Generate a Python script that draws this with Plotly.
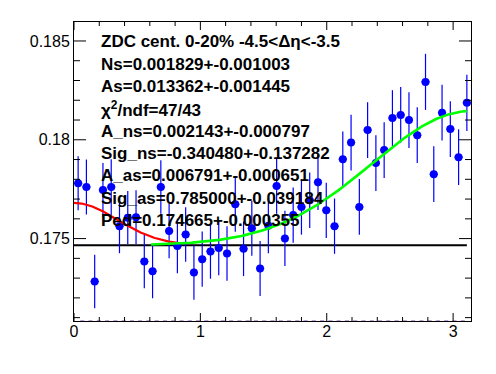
import numpy as np
import plotly.graph_objects as go

# ---- data ----
n_bins = 48
y_vals = [0.17780, 0.17761, 0.17283, 0.17746, 0.17761, 0.17563, 0.17606, 0.17608,
          0.17384, 0.17335, 0.17761, 0.17538, 0.17462, 0.17521, 0.17328, 0.17396,
          0.17435, 0.17453, 0.17425, 0.17674, 0.17448, 0.17552, 0.17349, 0.17565,
          0.17766, 0.17501, 0.17619, 0.17660, 0.17694, 0.17785, 0.17643, 0.17563,
          0.17902, 0.17986, 0.17660, 0.18049, 0.17882, 0.17948, 0.18110, 0.18126,
          0.18100, 0.18023, 0.18293, 0.17826, 0.18137, 0.18054, 0.17912, 0.18187]
y_errs = [0.00137, 0.00139, 0.00135, 0.00137, 0.00141, 0.00137, 0.00135, 0.00137,
          0.00135, 0.00137, 0.00135, 0.00137, 0.00138, 0.00138, 0.00138, 0.00140,
          0.00138, 0.00138, 0.00138, 0.00139, 0.00138, 0.00139, 0.00139, 0.00139,
          0.00140, 0.00140, 0.00140, 0.00140, 0.00140, 0.00140, 0.00140, 0.00140,
          0.00140, 0.00141, 0.00141, 0.00141, 0.00141, 0.00141, 0.00141, 0.00141,
          0.00141, 0.00141, 0.00142, 0.00141, 0.00141, 0.00141, 0.00141, 0.00142]

# fit parameters (as printed on the chart)
A_ns, Sig_ns = 0.002143, -0.340480
A_as, Sig_as = 0.006791, 0.785000
Ped = 0.174665

text_lines = [
    "ZDC cent. 0-20% -4.5&lt;Δη&lt;-3.5",
    "Ns=0.001829+-0.001003",
    "As=0.013362+-0.001445",
    "χ<sup>2</sup>/ndf=47/43",
    "A_ns=0.002143+-0.000797",
    "Sig_ns=-0.340480+-0.137282",
    "A_as=0.006791+-0.000651",
    "Sig_as=0.785000+-0.039184",
    "Ped=0.174665+-0.000355",
]

x_tickvals = [0, 1, 2, 3]
x_ticktext = ["0", "1", "2", "3"]
y_tickvals = [0.175, 0.18, 0.185]
y_ticktext = ["0.175", "0.18", "0.185"]
x_minor_step = 0.2
y_minor_step = 0.001

# ---- derived ----
bw = np.pi / n_bins
x_c = (np.arange(n_bins) + 0.5) * bw
x_last = x_c[-1]
x_edges = np.arange(1, n_bins) * bw
x_rng = [0, np.pi]
y_min, y_max = 0.17083, 0.18596
plot_w_px, plot_h_px = 397, 299
px_x = (x_rng[1] - x_rng[0]) / plot_w_px   # data units per pixel, x
px_y = (y_max - y_min) / plot_h_px         # data units per pixel, y

x_red = np.linspace(0.0, 0.82, 120)
y_red = Ped + A_ns * np.exp(-x_red**2 / (2 * Sig_ns**2))
x_green = np.linspace(0.61, x_last, 200)
y_green = Ped + A_as * np.exp(-(x_green - np.pi)**2 / (2 * Sig_as**2))

FONT = "Liberation Sans, Arial, Helvetica, sans-serif"

fig = go.Figure()
fig.add_trace(go.Scatter(
    x=[0, x_last], y=[Ped, Ped], mode="lines",
    line=dict(color="black", width=2), hoverinfo="skip"))
fig.add_trace(go.Scatter(
    x=x_c, y=y_vals, mode="markers",
    marker=dict(color="#0000ff", size=8, symbol="circle"),
    error_y=dict(type="data", array=y_errs, color="#0000ff", thickness=1.2, width=0),
    error_x=dict(type="constant", value=bw / 2, color="#0000ff", thickness=1.2, width=0)))
fig.add_trace(go.Scatter(
    x=x_red, y=y_red, mode="lines", line=dict(color="#ff0000", width=2.2)))
fig.add_trace(go.Scatter(
    x=x_green, y=y_green, mode="lines", line=dict(color="#00ff00", width=2.6)))
# small blue dashes just under the bottom axis
fig.add_trace(go.Scatter(
    x=x_edges, y=[y_min] * len(x_edges), mode="markers", cliponaxis=False,
    marker=dict(symbol="line-ew-open", size=3, line=dict(color="#0000ff", width=1.2)),
    hoverinfo="skip"))

# ROOT-style inside ticks on all four sides, drawn as one line trace
tx, ty = [], []
for k in range(int(np.floor(x_rng[1] / x_minor_step)) + 1):
    xv = k * x_minor_step
    ln = (8 if any(abs(xv - t) < 1e-9 for t in x_tickvals) else 4) * px_y
    tx += [xv, xv, None, xv, xv, None]
    ty += [y_min, y_min + ln, None, y_max, y_max - ln, None]
for k in range(int(np.ceil(y_min / y_minor_step)), int(np.floor(y_max / y_minor_step)) + 1):
    yv = k * y_minor_step
    ln = (12 if any(abs(yv - t) < 1e-9 for t in y_tickvals) else 6) * px_x
    tx += [x_rng[0], x_rng[0] + ln, None, x_rng[1], x_rng[1] - ln, None]
    ty += [yv, yv, None, yv, yv, None]
fig.add_trace(go.Scatter(x=tx, y=ty, mode="lines", cliponaxis=False,
                         line=dict(color="black", width=1), hoverinfo="skip"))

# text box lines (plot area: 22..321 px in the window)
top_pix = 22
first_c, step = 42.0, 22.3
for i, t in enumerate(text_lines):
    yc = first_c + i * step
    fig.add_annotation(
        x=(99 - 74) / plot_w_px, y=(top_pix + plot_h_px - yc) / plot_h_px,
        xref="paper", yref="paper", xanchor="left", yanchor="middle",
        text=t, showarrow=False,
        font=dict(family=FONT, size=17, color="black", weight="bold"))

tickfont = dict(family=FONT, size=16, color="black")
axis = dict(showgrid=False, zeroline=False, showline=True, linecolor="black",
            linewidth=1, mirror=True, ticks="", tickmode="array", tickfont=tickfont)

fig.update_layout(
    template="none",
    width=488, height=366, showlegend=False,
    margin=dict(l=66, r=25, t=14, b=53),
    paper_bgcolor="white", plot_bgcolor="white",
    xaxis=dict(range=x_rng, tickvals=x_tickvals, ticktext=x_ticktext,
               ticklabelstandoff=-4, **axis),
    yaxis=dict(range=[y_min, y_max], tickvals=y_tickvals, ticktext=y_ticktext, **axis),
)
fig.write_html("out.html")
